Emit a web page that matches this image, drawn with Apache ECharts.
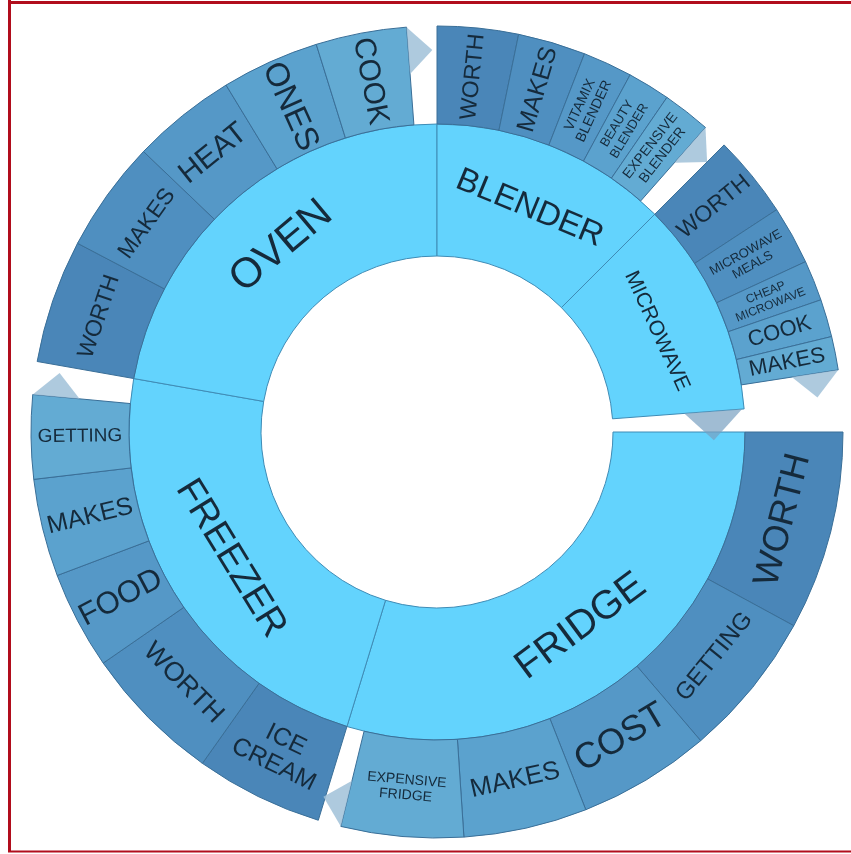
<!DOCTYPE html>
<html>
<head>
<meta charset="utf-8">
<script src="https://cdn.jsdelivr.net/npm/echarts@6/dist/echarts.min.js"></script>
<style>
html, body { margin: 0; padding: 0; background: #fff; }
#chart { width: 851px; height: 854px; }
</style>
</head>
<body>
<div id="chart"></div>
<script>
// inner ring, clockwise from 3 o'clock
var groups = ['FRIDGE', 'FREEZER', 'OVEN', 'BLENDER', 'MICROWAVE'];
var groupValues = [107, 83, 80, 45, 40.7];
var restValue = 4.3;

// outer ring, clockwise inside each group
var fridgeItems = ['WORTH', 'GETTING', 'COST', 'MAKES', 'EXPENSIVE\nFRIDGE'];
var fridgeValues = [28.5, 21, 19, 17.7, 17.5];
var freezerItems = ['ICE\nCREAM', 'WORTH', 'FOOD', 'MAKES', 'GETTING'];
var freezerValues = [18.3, 20, 14, 14, 12];
var ovenItems = ['WORTH', 'MAKES', 'HEAT', 'ONES', 'COOK'];
var ovenValues = [17.7, 16, 15, 14, 13];
var blenderItems = ['WORTH', 'MAKES', 'VITAMIX\nBLENDER', 'BEAUTY\nBLENDER', 'EXPENSIVE\nBLENDER'];
var blenderValues = [11.6, 9.7, 7.1, 6.1, 6.9];
var microwaveItems = ['WORTH', 'MICROWAVE\nMEALS', 'CHEAP\nMICROWAVE', 'COOK', 'MAKES'];
var microwaveValues = [11.8, 8.4, 5.8, 5.4, 4.8];

// label styles
var groupFonts = [40, 38, 42, 33, 21];
var fridgeFonts = [36, 24, 36, 26, 14];
var freezerFonts = [25, 27, 31, 25, 19];
var ovenFonts = [23, 23, 30, 33, 30];
var blenderFonts = [23, 25, 14, 13, 14];
var microwaveFonts = [23, 13, 12, 22, 22];
var T = 'tangential', R = 'radial';
var fridgeRot = [T, T, T, T, T];
var freezerRot = [T, T, R, R, R];
var ovenRot = [T, T, T, R, R];
var blenderRot = [R, R, R, R, R];
var microwaveRot = [R, R, R, R, R];

var shades = ['#4a86b8', '#4f8fc0', '#5598c7', '#5ba2ce', '#63abd3'];
var innerColor = '#63d3fd';
var textColor = '#152a3b';
var cx = 437, cy = 432, r0 = 176, r1 = 308, r2 = 406;

function buildChildren(names, values, fonts, rotates) {
    var list = [];
    for (var i = 0; i < names.length; i++) {
        list.push({
            name: names[i],
            value: values[i],
            itemStyle: {color: shades[i]},
            label: {fontSize: fonts[i], rotate: rotates[i], lineHeight: fonts[i] * 1.1}
        });
    }
    return list;
}

var childLists = [
    buildChildren(fridgeItems, fridgeValues, fridgeFonts, fridgeRot),
    buildChildren(freezerItems, freezerValues, freezerFonts, freezerRot),
    buildChildren(ovenItems, ovenValues, ovenFonts, ovenRot),
    buildChildren(blenderItems, blenderValues, blenderFonts, blenderRot),
    buildChildren(microwaveItems, microwaveValues, microwaveFonts, microwaveRot)
];

var data = [];
for (var g = 0; g < groups.length; g++) {
    data.push({
        name: groups[g],
        value: groupValues[g],
        itemStyle: {color: innerColor},
        label: {fontSize: groupFonts[g], rotate: 'tangential'},
        children: childLists[g]
    });
}
data.push({
    name: '',
    value: restValue,
    itemStyle: {color: 'rgba(0,0,0,0)', borderColor: 'rgba(0,0,0,0)', borderWidth: 0},
    label: {show: false}
});

// folded flaps at the end of each block, placed from the same values
function pt(r, deg) {
    var a = deg * Math.PI / 180;
    return [cx + r * Math.cos(a), cy - r * Math.sin(a)];
}
var flaps = [];
var total = 0;
for (var i = 0; i < groupValues.length; i++) total += groupValues[i];
total += restValue;
var acc = 0;
for (var g = 0; g < groups.length; g++) {
    var childSum = 0;
    for (var k = 0; k < childLists[g].length; k++) childSum += childLists[g][k].value;
    var endDeg = -(acc + childSum) * 360 / total;
    flaps.push({
        type: 'polygon', z: 10, silent: true,
        shape: {points: [pt(r2, endDeg), pt(r2 - 24, endDeg - 3.6), pt(r2 - 47, endDeg)]},
        style: {fill: 'rgba(160,193,216,0.85)'}
    });
    acc += groupValues[g];
}
var innerEnd = -acc * 360 / total;
flaps.push({
    type: 'polygon', z: 10, silent: true,
    shape: {points: [pt(r1 - 2, innerEnd), pt(r1 - 31, innerEnd - 6), pt(r1 - 60, innerEnd)]},
    style: {fill: 'rgba(120,160,192,0.7)'}
});

var dom = document.getElementById('chart');
var ech = echarts.init(dom);
var option = {
    backgroundColor: '#fff',
    animation: false,
    graphic: flaps.concat([
        {type: 'line', z: 20, shape: {x1: 9.5, y1: 0, x2: 9.5, y2: 852}, style: {stroke: '#b10d1c', lineWidth: 3}},
        {type: 'line', z: 20, shape: {x1: 8, y1: 2.5, x2: 851, y2: 2.5}, style: {stroke: '#b10d1c', lineWidth: 3}},
        {type: 'line', z: 20, shape: {x1: 8, y1: 851.5, x2: 851, y2: 851.5}, style: {stroke: '#b10d1c', lineWidth: 2}}
    ]),
    series: [{
        type: 'sunburst',
        center: [cx, cy],
        radius: [r0, r2],
        startAngle: 0,
        clockwise: true,
        sort: null,
        nodeClick: false,
        emphasis: {focus: 'none'},
        label: {
            color: textColor,
            fontFamily: 'Liberation Sans',
            align: 'center',
            minAngle: 0
        },
        levels: [
            {},
            {r0: r0, r: r1, itemStyle: {borderColor: '#3f8cb6', borderWidth: 1}},
            {r0: r1, r: r2, itemStyle: {borderColor: '#3a6f98', borderWidth: 1}}
        ],
        data: data
    }]
};
ech.setOption(option);
</script>
</body>
</html>
